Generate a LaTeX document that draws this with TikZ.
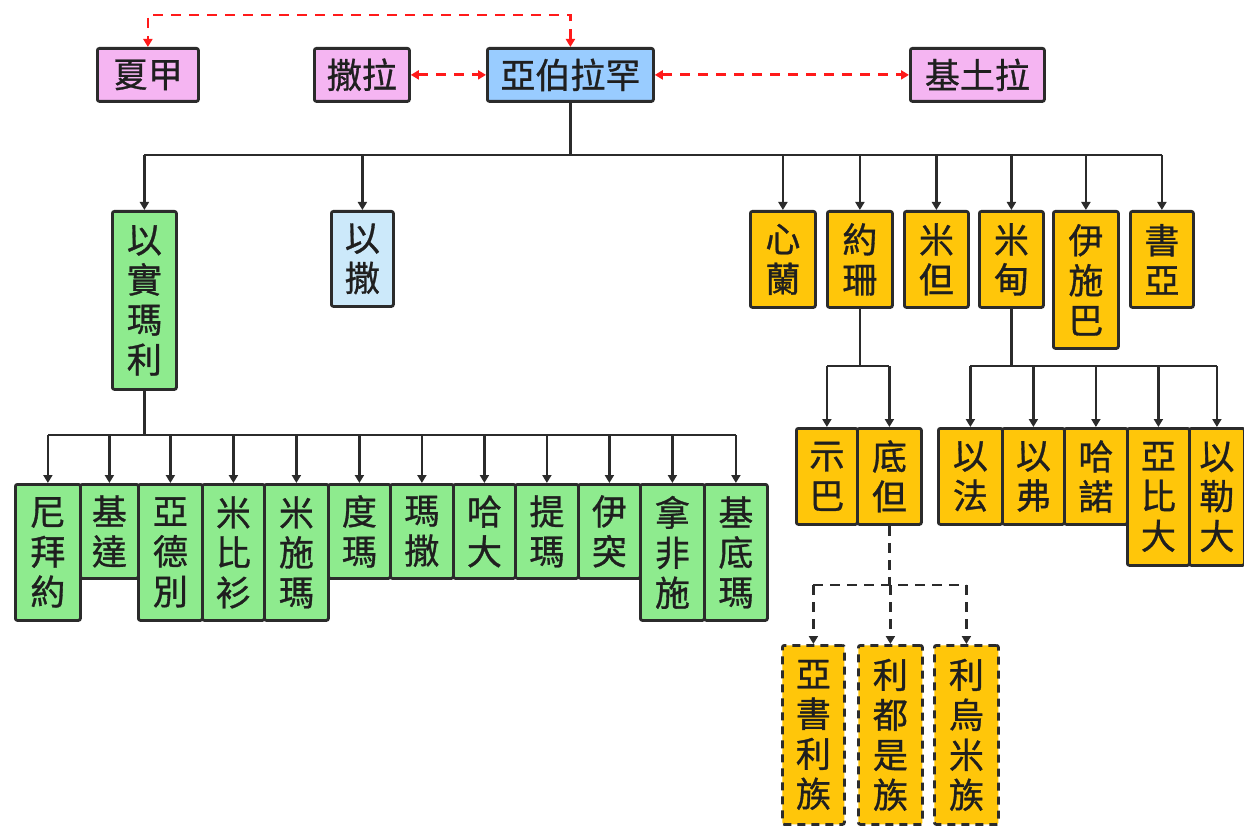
\documentclass[tikz,border=0pt]{standalone}
\usepackage{fontspec}
\setmainfont{Noto Sans CJK TC}
\newfontfamily\medfont[FakeBold=0.9]{Noto Sans CJK TC}
\usetikzlibrary{arrows.meta}
\definecolor{pinkc}{HTML}{F5B5F2}
\definecolor{bluec}{HTML}{99CCFF}
\definecolor{lblue}{HTML}{CCE9FA}
\definecolor{greenc}{HTML}{8EEB8E}
\definecolor{yellowc}{HTML}{FFC60A}
\definecolor{redc}{HTML}{FF1A1A}
\definecolor{edgec}{HTML}{2B2B2B}
\tikzset{
  box/.style={draw=edgec, line width=1.4pt, rounded corners=1pt, inner sep=0pt, align=center,
    anchor=north west, font=\medfont\fontsize{17.5pt}{20pt}\selectfont, text=black!88},
  dbox/.style={box, dash pattern=on 4pt off 3pt},
  conn/.style={draw=edgec, line width=1.2pt},
  arr/.style={conn, -{Triangle[length=4pt,width=4.5pt]}},
  redlink/.style={draw=redc, line width=1.4pt, dash pattern=on 5pt off 4pt,
    {Triangle[length=4pt,width=4.5pt]}-{Triangle[length=4pt,width=4.5pt]}},
  dconn/.style={conn, dash pattern=on 5pt off 3.5pt},
  darr/.style={dconn, -{Triangle[length=4pt,width=4.5pt]}},
}
\newcommand{\kbox}[7]{\node[#6, minimum width={(#4-#2)*0.5pt}, minimum height={(#5-#3)*0.5pt}] (#1) at (#2,#3) {#7};}
\begin{document}
\begin{tikzpicture}[x=0.5pt,y=-0.5pt]
\useasboundingbox (0,0) rectangle (1244,829);
% top row
\kbox{hagar}{96}{47}{197}{100}{box,fill=pinkc}{夏甲}
\kbox{sarah}{313}{47}{408}{100}{box,fill=pinkc}{撒拉}
\kbox{abr}{486}{47}{652}{100}{box,fill=bluec}{亞伯拉罕}
\kbox{ket}{909}{47}{1043}{100}{box,fill=pinkc}{基土拉}
% second row
\kbox{ish}{111}{210}{175}{388}{box,fill=greenc}{以\\實\\瑪\\利}
\kbox{isaac}{330}{210}{392}{305}{box,fill=lblue}{以\\撒}
\kbox{xin}{749}{210}{814}{306}{box,fill=yellowc}{心\\蘭}
\kbox{yue}{826}{210}{891}{306}{box,fill=yellowc}{約\\珊}
\kbox{midan}{903}{210}{967}{306}{box,fill=yellowc}{米\\但}
\kbox{midian}{978}{210}{1042}{306}{box,fill=yellowc}{米\\甸}
\kbox{yish}{1052}{210}{1117}{347}{box,fill=yellowc}{伊\\施\\巴}
\kbox{shua}{1129}{210}{1192}{306}{box,fill=yellowc}{書\\亞}
% Ishmael's sons
\kbox{g1}{14}{483}{79}{619}{box,fill=greenc}{尼\\拜\\約}
\kbox{g2}{79}{483}{137}{577}{box,fill=greenc}{基\\達}
\kbox{g3}{137}{483}{201}{619}{box,fill=greenc}{亞\\德\\別}
\kbox{g4}{201}{483}{263}{619}{box,fill=greenc}{米\\比\\衫}
\kbox{g5}{263}{483}{327}{619}{box,fill=greenc}{米\\施\\瑪}
\kbox{g6}{327}{483}{389}{577}{box,fill=greenc}{度\\瑪}
\kbox{g7}{389}{483}{452}{577}{box,fill=greenc}{瑪\\撒}
\kbox{g8}{452}{483}{514}{577}{box,fill=greenc}{哈\\大}
\kbox{g9}{514}{483}{577}{577}{box,fill=greenc}{提\\瑪}
\kbox{g10}{577}{483}{639}{577}{box,fill=greenc}{伊\\突}
\kbox{g11}{639}{483}{703}{619}{box,fill=greenc}{拿\\非\\施}
\kbox{g12}{703}{483}{766}{619}{box,fill=greenc}{基\\底\\瑪}
% Jokshan's sons
\kbox{shiba}{795}{427}{856}{523}{box,fill=yellowc}{示\\巴}
\kbox{didan}{856}{427}{920}{523}{box,fill=yellowc}{底\\但}
% Midian's sons
\kbox{m1}{937}{427}{1001}{523}{box,fill=yellowc}{以\\法}
\kbox{m2}{1001}{427}{1063}{523}{box,fill=yellowc}{以\\弗}
\kbox{m3}{1063}{427}{1126}{523}{box,fill=yellowc}{哈\\諾}
\kbox{m4}{1126}{427}{1188}{564}{box,fill=yellowc}{亞\\比\\大}
\kbox{m5}{1188}{427}{1243}{564}{box,fill=yellowc}{以\\勒\\大}
% Dedan's tribes
\kbox{t1}{781}{644}{843}{823}{dbox,fill=yellowc}{亞\\書\\利\\族}
\kbox{t2}{857}{644}{921}{823}{dbox,fill=yellowc}{利\\都\\是\\族}
\kbox{t3}{933}{644}{997}{823}{dbox,fill=yellowc}{利\\烏\\米\\族}
% red links
\coordinate (rt) at (0,15);
\draw[redlink] (abr.north) -- (abr.north |- rt) -| (hagar.north);
\draw[redlink] (sarah.east) -- (abr.west);
\draw[redlink] (abr.east) -- (ket.west);
% Abraham's children
\coordinate (b1) at (0,155);
\draw[conn] (abr.south) -- (abr.south |- b1);
\draw[conn] (ish.north |- b1) -- (shua.north |- b1);
\foreach \n in {ish,isaac,xin,yue,midan,midian,yish,shua}
  \draw[arr] (\n.north |- b1) -- (\n.north);
% Ishmael
\coordinate (b2) at (0,435);
\draw[conn] (ish.south) -- (ish.south |- b2);
\draw[conn] (g1.north |- b2) -- (g12.north |- b2);
\foreach \n in {g1,g2,g3,g4,g5,g6,g7,g8,g9,g10,g11,g12}
  \draw[arr] (\n.north |- b2) -- (\n.north);
% Jokshan
\coordinate (b3) at (0,366);
\draw[conn] (yue.south) -- (yue.south |- b3);
\draw[conn] (shiba.north |- b3) -- (didan.north |- b3);
\foreach \n in {shiba,didan}
  \draw[arr] (\n.north |- b3) -- (\n.north);
% Midian
\draw[conn] (midian.south) -- (midian.south |- b3);
\draw[conn] (m1.north |- b3) -- (m5.north |- b3);
\foreach \n in {m1,m2,m3,m4,m5}
  \draw[arr] (\n.north |- b3) -- (\n.north);
% Dedan
\coordinate (b5) at (0,585);
\draw[dconn] (didan.south) -- (didan.south |- b5);
\draw[dconn] (t1.north |- b5) -- (t3.north |- b5);
\foreach \n in {t1,t2,t3}
  \draw[darr] (\n.north |- b5) -- (\n.north);
\end{tikzpicture}
\end{document}
